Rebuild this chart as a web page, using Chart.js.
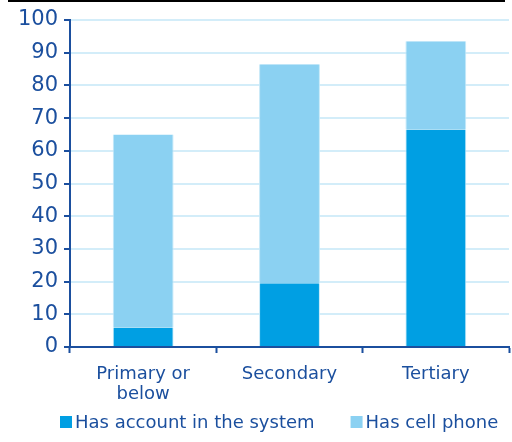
<!DOCTYPE html>
<html>
<head>
<meta charset="utf-8">
<script src="https://cdn.jsdelivr.net/npm/chart.js@4/dist/chart.umd.min.js"></script>
<style>
  html, body { margin: 0; padding: 0; background: #fff; }
  #wrap { width: 512px; height: 442px; position: relative; }
</style>
</head>
<body>
<div id="wrap"><canvas id="c"></canvas></div>
<script>
var labels = [['Primary or', 'below'], 'Secondary', 'Tertiary']
var account = [6, 19.5, 66.5]
var phone = [59, 67, 27]   // stacked on top of account
var yTicks = [0, 10, 20, 30, 40, 50, 60, 70, 80, 90, 100]

var navy = '#1b4f9e'
var fnt = 'DejaVu Sans'

// thin black rule along the top edge
var topRule = {
  id: 'topRule',
  afterDraw: function(chart) {
    var ctx = chart.ctx
    ctx.save()
    ctx.strokeStyle = '#000'
    ctx.lineWidth = 2
    ctx.beginPath()
    ctx.moveTo(8, 1)
    ctx.lineTo(505, 1)
    ctx.stroke()
    ctx.restore()
  }
}

// legend row under the axis: small square then label, tight gap
var keyRow = {
  id: 'keyRow',
  afterDraw: function(chart) {
    var ctx = chart.ctx
    var x = 60, y = 422
    ctx.save()
    ctx.font = '18px "' + fnt + '"'
    ctx.textBaseline = 'middle'
    chart.data.datasets.forEach(function(ds) {
      ctx.fillStyle = ds.backgroundColor
      ctx.fillRect(x, y - 6, 12, 12)
      ctx.fillStyle = navy
      ctx.fillText(ds.label, x + 15, y + 1)
      x += 15 + ctx.measureText(ds.label).width + 36
    })
    ctx.restore()
  }
}

new Chart('c', {
  type: 'bar',
  data: {
    labels: labels,
    datasets: [{
      label: 'Has account in the system',
      data: account,
      backgroundColor: '#009fe3',
      borderColor: '#c4e8f8',
      borderWidth: {left: 1, right: 1, top: 0, bottom: 0},
      barPercentage: 0.416,
      categoryPercentage: 1
    }, {
      label: 'Has cell phone',
      data: phone,
      backgroundColor: '#8bd1f2',
      borderColor: '#c4e8f8',
      borderWidth: {left: 1, right: 1, top: 0, bottom: 0},
      barPercentage: 0.416,
      categoryPercentage: 1
    }]
  },
  plugins: [topRule, keyRow],
  options: {
    responsive: true,
    maintainAspectRatio: false,
    animation: false,
    layout: { padding: { left: 8, right: 3, top: 20, bottom: 37 } },
    plugins: {
      tooltip: { enabled: false },
      legend: { display: false }
    },
    scales: {
      x: {
        stacked: true,
        afterFit: function(axis) { axis.height = 58 },
        grid: {
          offset: true,
          drawOnChartArea: false,
          tickLength: 6,
          tickColor: navy,
          tickWidth: 2
        },
        border: { display: true, color: navy, width: 2 },
        ticks: {
          color: navy,
          padding: 11,
          font: { family: fnt, size: 18, lineHeight: 1.12 }
        }
      },
      y: {
        stacked: true,
        min: 0,
        max: 100,
        afterBuildTicks: function(axis) {
          axis.ticks = yTicks.map(function(v) { return {value: v} })
        },
        afterFit: function(axis) { axis.width = 62 },
        grid: {
          color: '#d3edf9',
          lineWidth: 2,
          tickLength: 6,
          tickColor: navy,
          tickWidth: 2
        },
        border: { display: true, color: navy, width: 2 },
        ticks: {
          color: navy,
          padding: 6,
          font: { family: fnt, size: 21 }
        }
      }
    }
  }
});
</script>
</body>
</html>
